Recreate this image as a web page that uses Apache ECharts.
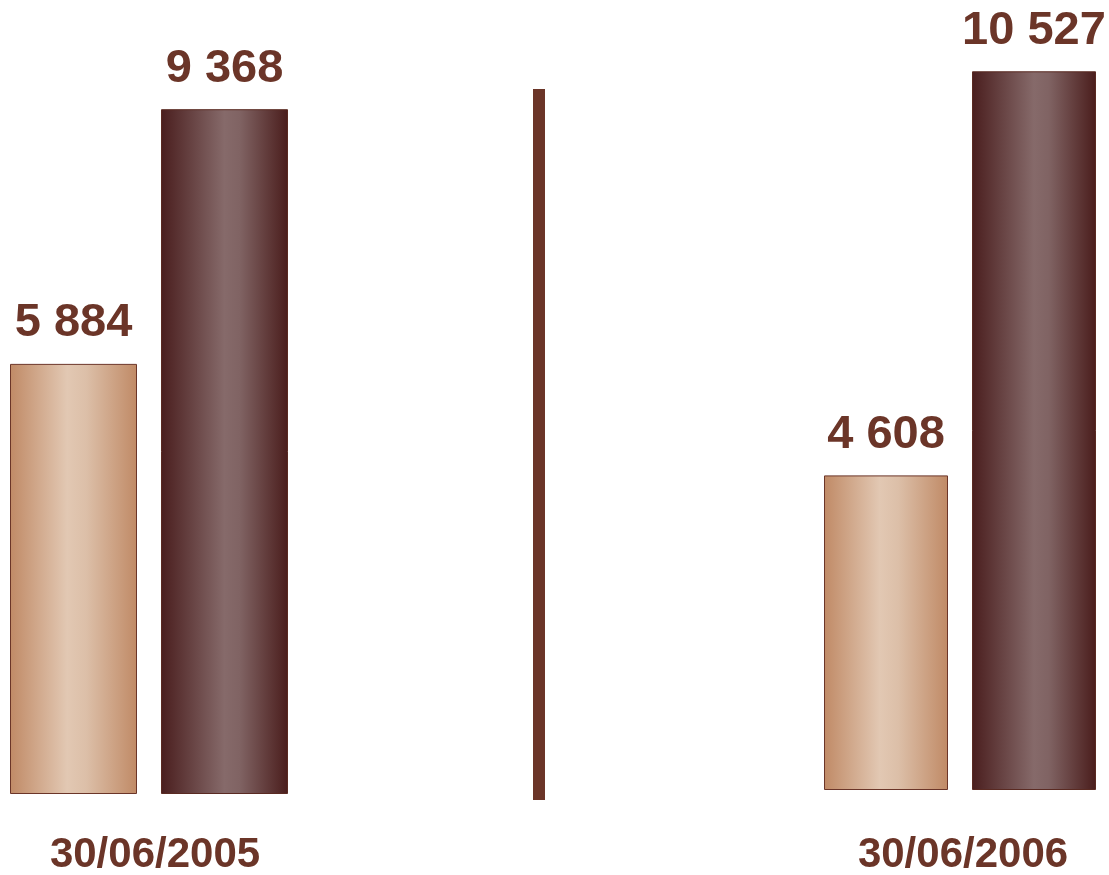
<!DOCTYPE html>
<html>
<head>
<meta charset="utf-8">
<script src="https://cdn.jsdelivr.net/npm/echarts@6/dist/echarts.min.js"></script>
<style>
  html, body { margin: 0; padding: 0; background: #fff; }
  #chart { width: 1109px; height: 875px; }
</style>
</head>
<body>
<div id="chart"></div>
<script>
var dates = ['30/06/2005', '30/06/2006'];
var lightValues = [5884, 4608];
var darkValues = [9368, 10527];

var textColor = '#6b3528';

var lightFill = new echarts.graphic.LinearGradient(0, 0, 1, 0, [
    {offset: 0, color: '#c08a66'},
    {offset: 0.45, color: '#e2c8b3'},
    {offset: 0.6, color: '#dcbfa8'},
    {offset: 1, color: '#c08a66'}
]);
var darkFill = new echarts.graphic.LinearGradient(0, 0, 1, 0, [
    {offset: 0, color: '#4a1e1e'},
    {offset: 0.5, color: '#866a6a'},
    {offset: 0.62, color: '#806363'},
    {offset: 1, color: '#4a1d1c'}
]);

function fmt(v) {
    return String(v).replace(/\B(?=(\d{3})+(?!\d))/g, ' ');
}

var barLabel = {
    show: true,
    position: 'top',
    distance: 17,
    color: textColor,
    fontFamily: 'Liberation Sans',
    fontWeight: 'bold',
    fontSize: 47,
    formatter: function (p) { return fmt(p.value); }
};

// each date gets its own grid (the picture uses a slightly different scale per group)
var grids = [
    {left: 10, width: 278, top: 63, height: 731, outerBoundsMode: 'none'},
    {left: 824, width: 272, top: 39, height: 751, outerBoundsMode: 'none'}
];
var yMax = [10000, 11000];
var barWidths = [127, 124];
var labelMargin = [40, 44];

var xAxes = [], yAxes = [], series = [];
for (var i = 0; i < dates.length; i++) {
    xAxes.push({
        gridIndex: i,
        type: 'category',
        data: [dates[i]],
        axisLine: {show: false},
        axisTick: {show: false},
        axisLabel: {
            margin: labelMargin[i],
            color: textColor,
            fontFamily: 'Liberation Sans',
            fontWeight: 'bold',
            fontSize: 42,
            padding: [0, 0, 0, i === 0 ? 12 : 6]
        }
    });
    yAxes.push({
        gridIndex: i,
        type: 'value',
        min: 0,
        max: yMax[i],
        show: false,
        splitLine: {show: false}
    });
    series.push({
        type: 'bar',
        xAxisIndex: i,
        yAxisIndex: i,
        barWidth: barWidths[i],
        barGap: (24 / barWidths[i] * 100) + '%',
        data: [lightValues[i]],
        itemStyle: {color: lightFill, borderColor: '#6b3528', borderWidth: 1},
        label: barLabel
    });
    series.push({
        type: 'bar',
        xAxisIndex: i,
        yAxisIndex: i,
        barWidth: barWidths[i],
        data: [darkValues[i]],
        itemStyle: {color: darkFill, borderColor: '#5a2a22', borderWidth: 1},
        label: barLabel
    });
}

var chart = echarts.init(document.getElementById('chart'));
chart.setOption({
    backgroundColor: '#ffffff',
    animation: false,
    grid: grids,
    xAxis: xAxes,
    yAxis: yAxes,
    series: series,
    graphic: [
        {
            type: 'rect',
            left: 533,
            top: 89,
            shape: {width: 12, height: 711},
            style: {fill: '#6b3528'}
        }
    ]
});
</script>
</body>
</html>
